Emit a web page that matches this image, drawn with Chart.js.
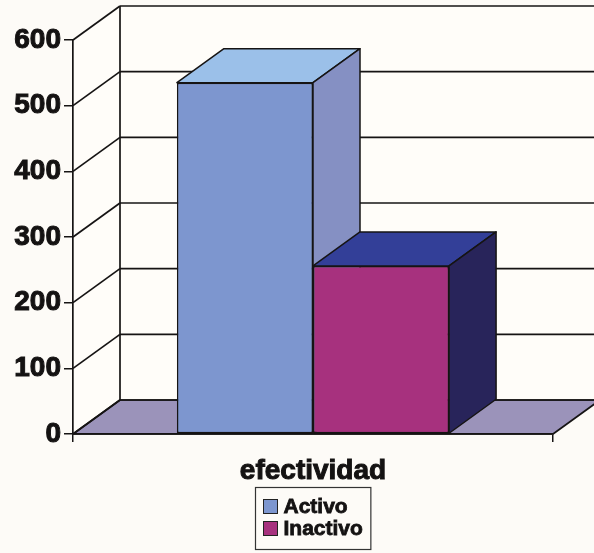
<!DOCTYPE html>
<html><head><meta charset="utf-8">
<script src="https://cdn.jsdelivr.net/npm/chart.js@4/dist/chart.umd.min.js"></script>
<style>html,body{margin:0;padding:0;background:#fdfbf7;} #wrap{width:594px;height:553px;}</style>
</head><body><div id="wrap"><canvas id="c" width="594" height="553"></canvas></div>
<script>
// ---- data ----
const categories = ['efectividad'];
const seriesNames = ['Activo', 'Inactivo'];
const activoValues = [535];
const inactivoValues = [256];
const yTicks = [0, 100, 200, 300, 400, 500, 600];

// ---- styles ----
const DX = 47, DY = -34;
const faces = [
  { front: '#7d96cf', top: '#9bc0e9', side: '#8590c3' },
  { front: '#a7317e', top: '#333f98', side: '#28245a' }
];
const WALL = '#fffdf9', FLOOR = '#9b93ba', LINE = '#161414', TEXT = '#141212';
const FONT = "'Liberation Sans', Arial, sans-serif";

function poly(ctx, pts) {
  ctx.beginPath();
  ctx.moveTo(pts[0][0], pts[0][1]);
  for (let i = 1; i < pts.length; i++) ctx.lineTo(pts[i][0], pts[i][1]);
  ctx.closePath();
}
function seg(ctx, x1, y1, x2, y2) {
  ctx.beginPath(); ctx.moveTo(x1, y1); ctx.lineTo(x2, y2); ctx.stroke();
}

const threeD = {
  id: 'threeD',
  beforeDraw(chart) {
    const { ctx, chartArea: a, scales: { y } } = chart;
    const yb = y.getPixelForValue(y.min), yt = y.getPixelForValue(y.max);
    ctx.save();
    ctx.lineWidth = 1.7; ctx.strokeStyle = LINE; ctx.lineJoin = 'round';
    ctx.fillStyle = WALL;
    poly(ctx, [[a.left, yb], [a.left + DX, yb + DY], [a.left + DX, yt + DY], [a.left, yt]]); ctx.fill();
    ctx.fillRect(a.left + DX, yt + DY, a.right - a.left + 10, yb - yt);
    ctx.fillStyle = FLOOR;
    poly(ctx, [[a.left, yb], [a.right, yb], [a.right + DX, yb + DY], [a.left + DX, yb + DY]]);
    ctx.fill(); ctx.stroke();
    yTicks.forEach(v => {
      const py = y.getPixelForValue(v);
      seg(ctx, a.left, py, a.left + DX, py + DY);
      seg(ctx, a.left + DX, py + DY, a.right + DX + 10, py + DY);
    });
    seg(ctx, a.left + DX, yb + DY, a.left + DX, yt + DY);
    ctx.restore();
  },
  afterDatasetsDraw(chart) {
    const { ctx } = chart;
    chart.data.datasets.forEach((ds, di) => {
      const meta = chart.getDatasetMeta(di);
      const f = faces[di];
      meta.data.forEach(bar => {
        bar.draw(ctx, chart.chartArea);
        const p = bar.getProps(['x', 'y', 'base', 'width'], true);
        const l = p.x - p.width / 2, r = p.x + p.width / 2;
        ctx.save();
        ctx.lineWidth = 1.5; ctx.strokeStyle = LINE; ctx.lineJoin = 'round';
        ctx.fillStyle = f.top;
        poly(ctx, [[l, p.y], [r, p.y], [r + DX, p.y + DY], [l + DX, p.y + DY]]);
        ctx.fill(); ctx.stroke();
        ctx.fillStyle = f.side;
        poly(ctx, [[r, p.y], [r + DX, p.y + DY], [r + DX, p.base + DY], [r, p.base]]);
        ctx.fill(); ctx.stroke();
        ctx.restore();
      });
    });
  },
  afterDraw(chart) {
    const { ctx, chartArea: a } = chart;
    ctx.save();
    ctx.font = 'bold 21px ' + FONT;
    const names = chart.data.datasets.map(d => d.label);
    const tw = Math.max(...names.map(n => ctx.measureText(n).width));
    const w = 8 + 14 + 6 + tw + 8, h = 62;
    const cx = (a.left + a.right) / 2;
    const bx = Math.round(cx - w / 2) + 0.5, by = chart.height - 65.5;
    ctx.fillStyle = '#fdfbf7';
    ctx.fillRect(bx, by, w, h);
    ctx.strokeStyle = '#333'; ctx.lineWidth = 1.2;
    ctx.strokeRect(bx, by, w, h);
    names.forEach((n, i) => {
      const cy = by + 19 + i * 22;
      ctx.fillStyle = faces[i].front;
      ctx.fillRect(bx + 8, cy - 7, 14, 14);
      ctx.strokeStyle = '#222'; ctx.lineWidth = 1;
      ctx.strokeRect(bx + 8, cy - 7, 14, 14);
      ctx.fillStyle = TEXT; ctx.strokeStyle = TEXT; ctx.lineWidth = 0.8;
      ctx.textBaseline = 'middle'; ctx.textAlign = 'left';
      ctx.strokeText(n, bx + 28, cy + 1);
      ctx.fillText(n, bx + 28, cy + 1);
    });
    ctx.restore();
  }
};

new Chart(document.getElementById('c'), {
  type: 'bar',
  data: {
    labels: categories,
    datasets: [
      { label: seriesNames[0], data: activoValues, backgroundColor: faces[0].front, borderColor: LINE, borderWidth: 1.5, borderSkipped: false },
      { label: seriesNames[1], data: inactivoValues, backgroundColor: faces[1].front, borderColor: LINE, borderWidth: 1.5, borderSkipped: false }
    ]
  },
  options: {
    responsive: false,
    animation: false,
    devicePixelRatio: 1,
    layout: { padding: { top: 40, right: 41, bottom: 69, left: 0 } },
    datasets: { bar: { barPercentage: 1, categoryPercentage: 0.567 } },
    plugins: { legend: { display: false }, tooltip: { enabled: false } },
    scales: {
      x: {
        grid: { drawOnChartArea: false, drawTicks: true, tickLength: 8, color: LINE, lineWidth: 1.5 },
        border: { display: true, color: LINE, width: 1.7 },
        ticks: { font: { family: FONT, size: 28, weight: 'bold' }, color: TEXT, padding: 12, textStrokeColor: TEXT, textStrokeWidth: 1 },
        afterFit(s) { s.height = 50; }
      },
      y: {
        min: 0, max: 600,
        afterBuildTicks(s) { s.ticks = yTicks.map(v => ({ value: v })); },
        grid: { drawOnChartArea: false, drawTicks: true, tickLength: 9, color: LINE, lineWidth: 1.5 },
        border: { display: true, color: LINE, width: 1.7 },
        ticks: { font: { family: FONT, size: 28, weight: 'bold' }, color: TEXT, padding: 3, textStrokeColor: TEXT, textStrokeWidth: 1 },
        afterFit(s) { s.width = 73; }
      }
    }
  },
  plugins: [threeD]
});
</script>
</body></html>
